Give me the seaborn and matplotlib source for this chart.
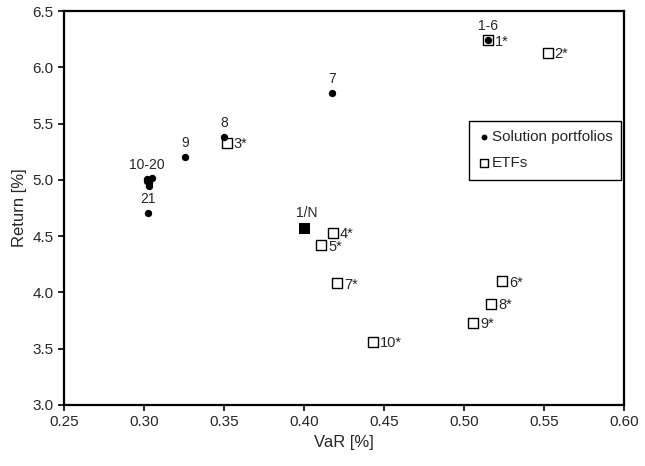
import matplotlib
matplotlib.use("Agg")
import matplotlib.pyplot as plt
import seaborn as sns
import pandas as pd

# solution portfolios (filled dots)
sol_labels = ['1-6', '7', '8', '9', '10-20', '', '', '', '', '21']
sol_var = [0.515, 0.4175, 0.350, 0.326, 0.302, 0.305, 0.303, 0.302, 0.303, 0.3025]
sol_ret = [6.24, 5.77, 5.38, 5.20, 5.01, 5.02, 4.97, 4.99, 4.95, 4.71]

# equally weighted portfolio
naive_var = [0.400]
naive_ret = [4.57]

# ETFs (open squares)
etf_labels = ['1*', '2*', '3*', '4*', '5*', '6*', '7*', '8*', '9*', '10*']
etf_var = [0.515, 0.5525, 0.352, 0.418, 0.411, 0.524, 0.421, 0.517, 0.506, 0.443]
etf_ret = [6.24, 6.13, 5.33, 4.53, 4.42, 4.10, 4.08, 3.90, 3.73, 3.56]

sol = pd.DataFrame({'VaR': sol_var, 'Return': sol_ret, 'label': sol_labels})
etf = pd.DataFrame({'VaR': etf_var, 'Return': etf_ret, 'label': etf_labels})

sns.set_style("ticks")
plt.rcParams['font.family'] = ['Liberation Sans', 'DejaVu Sans']

fig, ax = plt.subplots(figsize=(6.45, 4.66), dpi=100)
fig.subplots_adjust(left=0.099, right=0.967, top=0.976, bottom=0.131)

sns.scatterplot(data=etf, x='VaR', y='Return', marker='s', s=50, facecolor='white',
                edgecolor='black', linewidth=1.0, label='ETFs', ax=ax, zorder=3)
sns.scatterplot(data=sol, x='VaR', y='Return', marker='o', s=28, color='black',
                edgecolor='black', linewidth=0, label='Solution portfolios', ax=ax, zorder=4)
sns.scatterplot(x=naive_var, y=naive_ret, marker='s', s=75, color='black', ax=ax, zorder=4)

for _, r in sol.iterrows():
    if r['label']:
        ax.annotate(r['label'], (r['VaR'], r['Return']), xytext=(0, 5),
                    textcoords='offset points', ha='center', va='bottom', fontsize=10)
ax.annotate('1/N', (naive_var[0], naive_ret[0]), xytext=(2, 6),
            textcoords='offset points', ha='center', va='bottom', fontsize=10)
for _, r in etf.iterrows():
    ax.annotate(r['label'], (r['VaR'], r['Return']), xytext=(5, -1),
                textcoords='offset points', ha='left', va='center', fontsize=10.5)

ax.set_xlim(0.25, 0.60)
ax.set_ylim(3.0, 6.5)
ax.set_xticks([0.25, 0.30, 0.35, 0.40, 0.45, 0.50, 0.55, 0.60])
ax.set_yticks([3.0, 3.5, 4.0, 4.5, 5.0, 5.5, 6.0, 6.5])
ax.xaxis.set_major_formatter(matplotlib.ticker.FormatStrFormatter('%.2f'))
ax.yaxis.set_major_formatter(matplotlib.ticker.FormatStrFormatter('%.1f'))
ax.tick_params(labelsize=11, width=1.2, length=4, color='black')
ax.set_xlabel('VaR [%]', fontsize=12)
ax.set_ylabel('Return [%]', fontsize=12)
for sp in ax.spines.values():
    sp.set_visible(True)
    sp.set_linewidth(1.6)
    sp.set_color('black')

handles, labels = ax.get_legend_handles_labels()
order = [labels.index('Solution portfolios'), labels.index('ETFs')]
leg = ax.legend([handles[i] for i in order], [labels[i] for i in order],
                loc='upper right', bbox_to_anchor=(0.996, 0.721), borderaxespad=0,
                fontsize=11, frameon=True, fancybox=False, edgecolor='black', framealpha=1,
                handletextpad=0.1, handlelength=0.8, borderpad=0.6, labelspacing=0.8,
                markerscale=0.8)
leg.get_frame().set_linewidth(1.0)

fig.savefig('out.png', dpi=100)
